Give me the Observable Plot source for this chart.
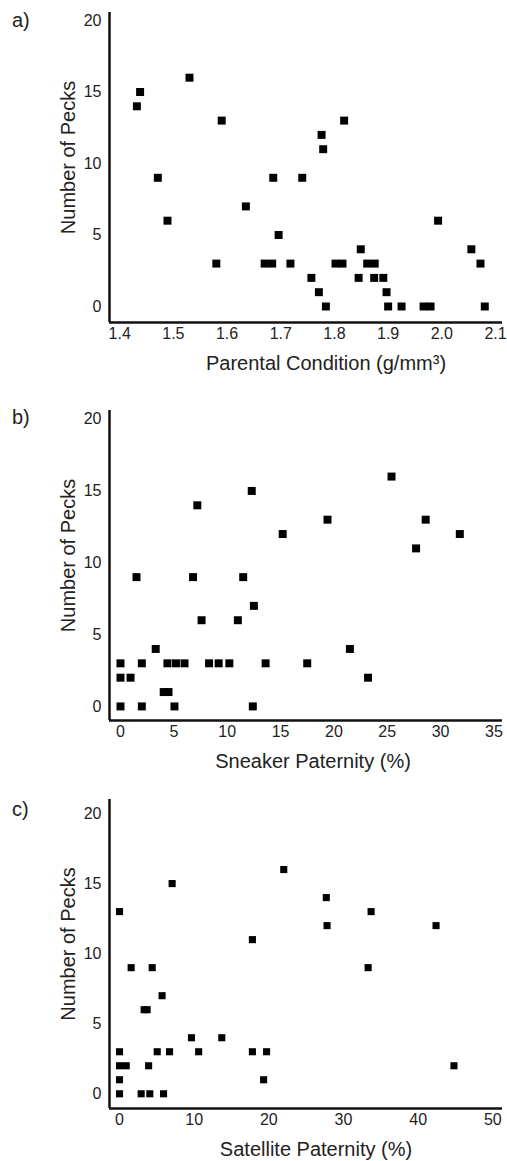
<!DOCTYPE html>
<html><head><meta charset="utf-8">
<script src="https://cdn.jsdelivr.net/npm/d3@7"></script>
<script src="https://cdn.jsdelivr.net/npm/@observablehq/plot@0.6"></script>
<style>
body{margin:0;background:#fff;font-family:"Liberation Sans",Arial,sans-serif;}
#chart{width:507px;}
.panel{position:relative;}
.plabel{position:absolute;left:12px;font-size:20px;line-height:20px;color:#222;}
svg{display:block;}
</style></head><body><div id="chart"></div>
<script>
const panelLabels = ["a)", "b)", "c)"];
const xLabels = ["Parental Condition (g/mm³)", "Sneaker Paternity (%)", "Satellite Paternity (%)"];
const yLabel = "Number of Pecks";
const yTicks = [0, 5, 10, 15, 20];

// a) Parental condition vs pecks
const conditionX = [1.432, 1.438, 1.53, 1.59, 1.471, 1.489, 1.635, 1.58,
  1.818, 1.776, 1.779, 1.686, 1.740, 1.696, 1.993, 1.849, 2.055,
  1.670, 1.684, 1.718, 1.802, 1.815, 1.861, 1.875, 2.072,
  1.757, 1.845, 1.874, 1.891, 1.771, 1.897,
  1.784, 1.900, 1.925, 1.966, 1.979, 2.080];
const conditionPecks = [14, 15, 16, 13, 9, 6, 7, 3,
  13, 12, 11, 9, 9, 5, 6, 4, 4,
  3, 3, 3, 3, 3, 3, 3, 3,
  2, 2, 2, 2, 1, 1,
  0, 0, 0, 0, 0, 0];
const conditionTicks = [1.4, 1.5, 1.6, 1.7, 1.8, 1.9, 2.0, 2.1];

// b) Sneaker paternity vs pecks
const sneakerX = [12.3, 7.2, 1.5, 6.8, 11.5, 12.5, 7.6, 11.0, 3.3,
  0, 2.0, 4.4, 5.2, 6.0, 8.3, 9.2, 10.2,
  0, 0.94, 4.05, 4.5,
  0, 2.0, 5.06, 12.4,
  25.4, 19.4, 28.6, 15.2, 31.8, 27.7, 21.5, 13.6, 17.5, 23.2];
const sneakerPecks = [15, 14, 9, 9, 9, 7, 6, 6, 4,
  3, 3, 3, 3, 3, 3, 3, 3,
  2, 2, 1, 1,
  0, 0, 0, 0,
  16, 13, 13, 12, 12, 11, 4, 3, 3, 2];
const sneakerTicks = [0, 5, 10, 15, 20, 25, 30, 35];

// c) Satellite paternity vs pecks
const satelliteX = [7.05, 0, 17.8, 1.56, 4.38, 5.7, 3.3, 3.7,
  9.64, 13.7,
  0, 5.05, 6.7, 10.6, 17.8,
  0, 0.9, 3.9,
  0,
  0, 2.9, 4.06, 5.9,
  22.0, 27.7, 33.7, 27.8, 42.4, 33.3, 19.7, 19.3, 44.8];
const satellitePecks = [15, 13, 11, 9, 9, 7, 6, 6,
  4, 4,
  3, 3, 3, 3, 3,
  2, 2, 2,
  1,
  0, 0, 0, 0,
  16, 14, 13, 12, 12, 9, 3, 1, 2];
const satelliteTicks = [0, 10, 20, 30, 40, 50];

const panels = [
  {label: panelLabels[0], xLabel: xLabels[0], xs: conditionX, ys: conditionPecks, ticks: conditionTicks, fmt: ".1f",
   xDomain: [1.381, 2.113], yDomain: [-1.12, 20.56], height: 398, marginBottom: 76, r: 4.5, xLabelDx: 20, labelTop: 10},
  {label: panelLabels[1], xLabel: xLabels[1], xs: sneakerX, ys: sneakerPecks, ticks: sneakerTicks, fmt: null,
   xDomain: [-1.03, 35.8], yDomain: [-0.98, 20.6], height: 389, marginBottom: 67, r: 4.5, xLabelDx: 7, labelTop: 9},
  {label: panelLabels[2], xLabel: xLabels[2], xs: satelliteX, ys: satellitePecks, ticks: satelliteTicks, fmt: null,
   xDomain: [-1.34, 51.3], yDomain: [-1.05, 21.0], height: 374, marginBottom: 53, r: 4.0, xLabelDx: 10, labelTop: 12}
];

const root = document.getElementById("chart");
for (const p of panels) {
  const data = p.xs.map((x, i) => ({x, y: p.ys[i]}));
  const xOpts = {domain: p.xDomain, ticks: p.ticks, tickSize: 0, tickPadding: 5, label: null};
  if (p.fmt) xOpts.tickFormat = p.fmt;
  const svg = Plot.plot({
    width: 507, height: p.height,
    marginLeft: 109, marginRight: 5, marginTop: 12, marginBottom: p.marginBottom,
    style: {fontFamily: "Liberation Sans, Arial, sans-serif", fontSize: "16px", color: "#222", background: "white", overflow: "visible"},
    x: xOpts,
    y: {domain: p.yDomain, ticks: yTicks, tickSize: 0, tickPadding: 8, label: null},
    marks: [
      Plot.ruleX([p.xDomain[0]], {stroke: "#111", strokeWidth: 2.5}),
      Plot.ruleY([p.yDomain[0]], {stroke: "#111", strokeWidth: 2.5}),
      Plot.dot(data, {x: "x", y: "y", symbol: "square", r: p.r, fill: "#000", stroke: null}),
      Plot.text([p.xLabel], {text: d => d, frameAnchor: "bottom", textAnchor: "middle", lineAnchor: "top", dy: 33, dx: p.xLabelDx, fontSize: 20, fill: "#222"}),
      Plot.text([yLabel], {text: d => d, frameAnchor: "left", textAnchor: "middle", rotate: -90, lineAnchor: "bottom", dx: -35, dy: -10, fontSize: 20, fill: "#222"})
    ]
  });
  const wrap = document.createElement("div");
  wrap.className = "panel";
  wrap.appendChild(svg);
  const lab = document.createElement("div");
  lab.className = "plabel";
  lab.style.top = p.labelTop + "px";
  lab.textContent = p.label;
  wrap.appendChild(lab);
  root.appendChild(wrap);
}
</script></body></html>
